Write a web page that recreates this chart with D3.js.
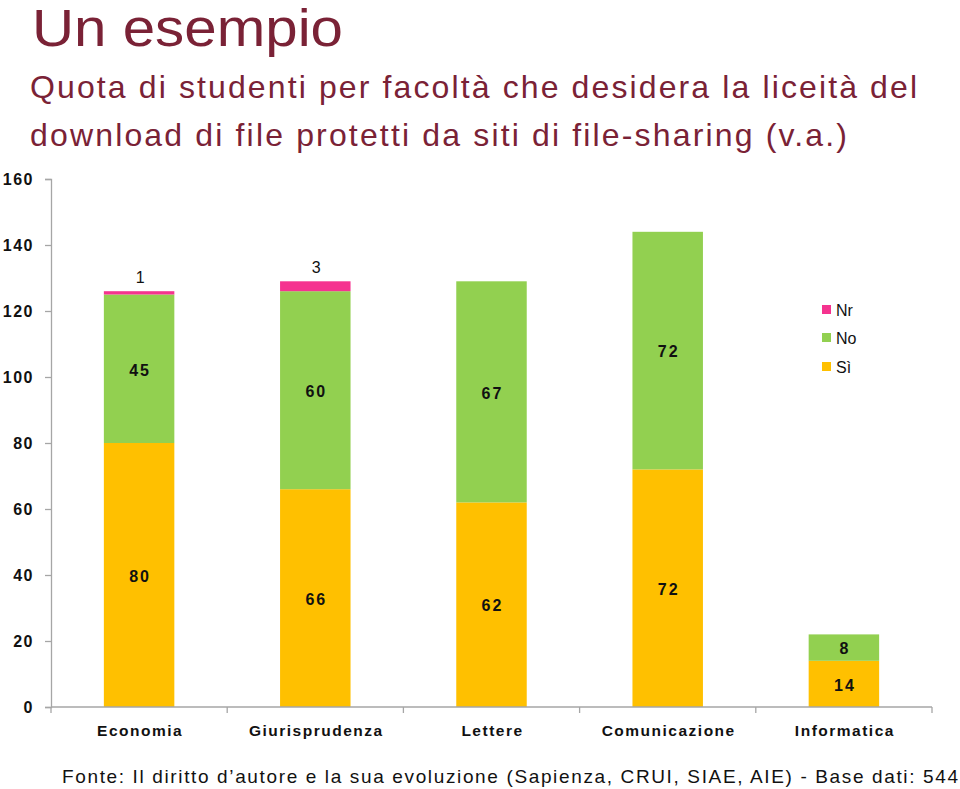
<!DOCTYPE html>
<html><head><meta charset="utf-8">
<script src="https://cdn.jsdelivr.net/npm/d3@7"></script>
<style>body{margin:0;background:#fff}svg{display:block;font-family:"Liberation Sans",Arial,sans-serif}</style>
</head><body><svg id="c" width="960" height="789"></svg>
<script>
const categories = ["Economia","Giurisprudenza","Lettere","Comunicazione","Informatica"];
const si = [80,66,62,72,14];
const no = [45,60,67,72,8];
const nr = [1,3,0,0,0];
const seriesNames = ["Sì","No","Nr"];
const seriesColors = ["#FFC000","#92D050","#F5338F"];
const yTicks = [0,20,40,60,80,100,120,140,160];
const title = "Un esempio";
const subtitle1 = "Quota di studenti per facoltà che desidera la liceità del";
const subtitle2 = "download di file protetti da siti di file-sharing (v.a.)";
const footer = "Fonte: Il diritto d’autore e la sua evoluzione (Sapienza, CRUI, SIAE, AIE) - Base dati: 544";

const svg = d3.select("#c");
const titleColor = "#7A2236";
const x0 = 51, x1 = 932, yTop = 179, yBot = 707;

svg.append("text").attr("x",32).attr("y",46).attr("font-size",51).attr("fill",titleColor)
  .attr("textLength",311).attr("lengthAdjust","spacingAndGlyphs").text(title);
svg.append("text").attr("x",30).attr("y",98).attr("font-size",32).attr("fill",titleColor)
  .attr("textLength",887).attr("lengthAdjust","spacing").text(subtitle1);
svg.append("text").attr("x",30).attr("y",146).attr("font-size",32).attr("fill",titleColor)
  .attr("textLength",817).attr("lengthAdjust","spacing").text(subtitle2);

const x = d3.scaleBand().domain(categories).range([x0,x1]).paddingInner(0.6).paddingOuter(0.3);
const y = d3.scaleLinear().domain([0,160]).range([yBot,yTop]);

const rows = categories.map((c,i)=>({cat:c,"Sì":si[i],"No":no[i],"Nr":nr[i]}));
const stack = d3.stack().keys(seriesNames)(rows);

// bars
stack.forEach((s,si_)=>{
  svg.append("g").selectAll("rect").data(s).join("rect")
    .attr("x",d=>x(d.data.cat)).attr("width",x.bandwidth())
    .attr("y",d=>y(d[1])).attr("height",d=>y(d[0])-y(d[1]))
    .attr("fill",seriesColors[si_]);
});

// axes
const axisColor = "#A6A6A6";
const yAxis = svg.append("g").attr("transform",`translate(${x0},0)`)
  .call(d3.axisLeft(y).tickValues(yTicks).tickSize(6).tickPadding(11));
yAxis.select(".domain").attr("stroke",axisColor).attr("stroke-width",1.3);
yAxis.selectAll(".tick line").attr("stroke",axisColor).attr("stroke-width",1.3);
yAxis.selectAll(".tick text").attr("font-size",16).attr("font-weight","bold").attr("fill","#111")
  .attr("letter-spacing","1.5px").attr("font-family","Liberation Sans, Arial, sans-serif");

const xAxis = svg.append("g").attr("transform",`translate(0,${yBot})`);
xAxis.append("line").attr("x1",x0).attr("x2",x1).attr("stroke",axisColor).attr("stroke-width",1.3);
const bounds = categories.map(c=>x(c)-x.step()*x.paddingInner()/2).concat([x1]);
xAxis.selectAll("line.t").data(bounds).join("line").attr("class","t")
  .attr("x1",d=>d).attr("x2",d=>d).attr("y1",0).attr("y2",6).attr("stroke",axisColor).attr("stroke-width",1.3);
xAxis.selectAll("text").data(categories).join("text")
  .attr("x",d=>x(d)+x.bandwidth()/2+1).attr("y",29).attr("text-anchor","middle")
  .attr("font-size",15.5).attr("font-weight","bold").attr("fill","#111").attr("letter-spacing","1.5px")
  .text(d=>d);

// data labels
stack.forEach((s,k)=>{
  s.forEach(d=>{
    const v = d[1]-d[0];
    if(!v) return;
    const cx = x(d.data.cat)+x.bandwidth()/2;
    let ty = k===2 ? y(d[1])-14 : y((d[0]+d[1])/2)+1;
    svg.append("text").attr("x",cx+1).attr("y",ty).attr("dy","0.36em").attr("text-anchor","middle")
      .attr("font-size",16).attr("font-weight",k===2?"normal":"bold").attr("fill","#111")
      .attr("letter-spacing", k===2?"0px":"2px").text(v);
  });
});

// legend
const legendY = {"Nr":310,"No":338,"Sì":367};
["Nr","No","Sì"].forEach(n=>{
  const i = seriesNames.indexOf(n);
  svg.append("rect").attr("x",822).attr("y",legendY[n]-5).attr("width",9).attr("height",9).attr("fill",seriesColors[i]);
  svg.append("text").attr("x",836).attr("y",legendY[n]).attr("dy","0.36em").attr("font-size",16).attr("fill","#111").text(n);
});

// footer
svg.append("text").attr("x",62).attr("y",783).attr("font-size",19).attr("fill","#111")
  .attr("textLength",896).attr("lengthAdjust","spacing").text(footer);
</script></body></html>
